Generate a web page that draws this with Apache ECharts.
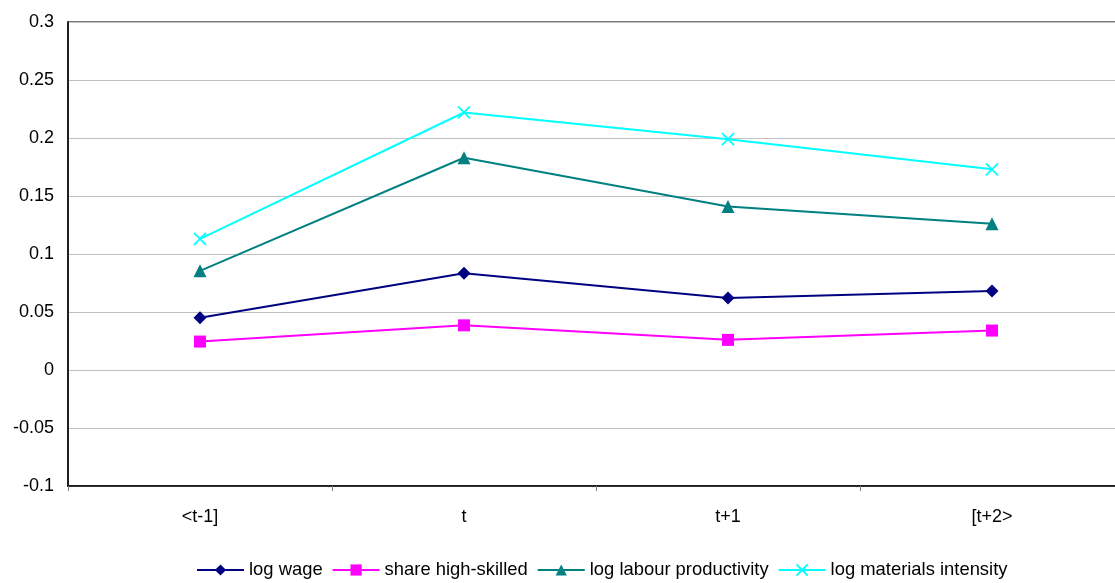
<!DOCTYPE html>
<html>
<head>
<meta charset="utf-8">
<script src="https://cdn.jsdelivr.net/npm/echarts@6/dist/echarts.min.js"></script>
<style>
  html, body { margin: 0; padding: 0; background: #fff; overflow: hidden; }
  #chart { width: 1124px; height: 583px; }
</style>
</head>
<body>
<div id="chart"></div>
<script>
// Periods around the event
const categories = ['<t-1]', 't', 't+1', '[t+2>'];

// Series values per period
const logWage = [0.045, 0.0835, 0.062, 0.068];
const shareHighSkilled = [0.0245, 0.0385, 0.026, 0.034];
const logLabourProductivity = [0.0855, 0.183, 0.141, 0.126];
const logMaterialsIntensity = [0.113, 0.222, 0.199, 0.173];

const FONT = '"Liberation Sans", Arial, sans-serif';
const crossPath = 'path://M0,0L10,10M10,0L0,10';

function lineSeries(name, data, color, symbol, size, extra) {
  return Object.assign({
    name: name,
    type: 'line',
    data: data,
    symbol: symbol,
    symbolSize: size,
    showAllSymbol: true,
    lineStyle: { color: color, width: 2 },
    itemStyle: { color: color },
    emphasis: { disabled: true },
    z: 3
  }, extra || {});
}

const chart = echarts.init(document.getElementById('chart'), null, { renderer: 'canvas' });

chart.setOption({
  animation: false,
  backgroundColor: '#ffffff',
  grid: {
    left: 68, top: 22, right: 0, bottom: 97,
    show: true,
    borderColor: '#7a7a7a',
    borderWidth: 2,
    containLabel: false
  },
  xAxis: {
    type: 'category',
    data: categories,
    boundaryGap: true,
    axisLine: { onZero: false, lineStyle: { color: '#000', width: 1.5 } },
    axisTick: { show: true, length: 5, alignWithLabel: false, lineStyle: { color: '#808080' } },
    axisLabel: { color: '#000', fontFamily: FONT, fontSize: 18, margin: 22 },
    splitLine: { show: false }
  },
  yAxis: {
    type: 'value',
    min: -0.1,
    max: 0.3,
    interval: 0.05,
    axisLine: { show: true, lineStyle: { color: '#000', width: 1.5 } },
    axisTick: { show: false },
    axisLabel: {
      color: '#000', fontFamily: FONT, fontSize: 18, margin: 14,
      formatter: function (v) { return String(parseFloat(v.toFixed(2))); }
    },
    splitLine: { show: true, lineStyle: { color: '#c0c0c0', width: 1 } }
  },
  legend: {
    top: 561,
    left: 196,
    padding: 0,
    itemWidth: 47,
    itemHeight: 14,
    itemGap: 9,
    textStyle: { color: '#000', fontFamily: FONT, fontSize: 18.4 },
    data: ['log wage', 'share high-skilled', 'log labour productivity', 'log materials intensity']
  },
  series: [
    lineSeries('log wage', logWage, '#000080', 'diamond', 13),
    lineSeries('share high-skilled', shareHighSkilled, '#ff00ff', 'rect', 12),
    lineSeries('log labour productivity', logLabourProductivity, '#008080', 'triangle', 13),
    lineSeries('log materials intensity', logMaterialsIntensity, '#00ffff', crossPath, 12, {
      itemStyle: { color: '#00ffff', borderColor: '#00ffff', borderWidth: 1.8 }
    })
  ]
});
</script>
</body>
</html>
